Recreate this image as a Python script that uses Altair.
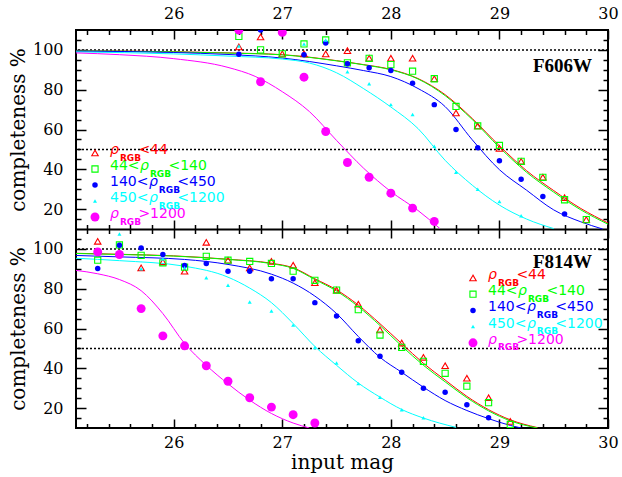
import altair as alt
import pandas as pd

# ---------------- data ----------------
SERIES = ["lt44", "44to140", "140to450", "450to1200", "gt1200"]
COLORS = ["#ff0000", "#00ff00", "#0000ff", "#00ffff", "#ff00ff"]
LEGEND_PRE = ["", "44<", "140<", "450<", ""]
LEGEND_SUF = ["<44", "<140", "<450", "<1200", ">1200"]
PANELS = ["F606W", "F814W"]

X_MAJOR = [26, 27, 28, 29, 30]
X_MINOR = [25.2, 25.4, 25.6, 25.8, 26.2, 26.4, 26.6, 26.8, 27.2, 27.4, 27.6, 27.8,
           28.2, 28.4, 28.6, 28.8, 29.2, 29.4, 29.6, 29.8]
Y_MAJOR = [20, 40, 60, 80, 100]
Y_MINOR = [15, 25, 30, 35, 45, 50, 55, 65, 70, 75, 85, 90, 95, 105]
DOTTED = [100, 50]

# F606W measured points
F606_MAG = [26.6, 26.8, 27.0, 27.2, 27.4, 27.6, 27.8, 28.0, 28.2, 28.4, 28.6, 28.8,
            29.0, 29.2, 29.4, 29.6, 29.8]
F606_RED = [101.5, 106.5, 98.0, 98.0, 98.0, 99.6, 95.8, 95.8, 95.8, 85.5, 68.3, 61.8,
            50.5, 44.0, 36.0, 25.8, 14.7]
F606_GREEN = [106.8, 100.0, 98.0, 103.0, 105.0, 93.5, 95.8, 92.6, 89.3, 85.5, 71.6, 61.8,
              52.0, 44.0, 36.0, 24.7, 14.7]
F606_BLUE = [97.8, 110.0, None, 97.6, 103.5, 93.0, 91.0, 89.6, 83.3, 72.5, 60.0, 50.8,
             44.3, 35.0, 26.3, 17.5, None]
F606_CYAN = [102.0, None, None, 103.0, 105.0, 89.0, 83.0, 72.5, 67.5, 51.6, 38.5, 30.0,
             23.8, 16.7, None, None, None]
F606_MAGENTA = [110.0, 84.0, 108.8, 86.3, 59.0, 43.4, 36.0, 28.0, 20.5, 13.8, None, None,
                None, None, None, None, None]

# F814W measured points
F814_MAG = [25.3, 25.5, 25.7, 25.9, 26.1, 26.3, 26.5, 26.7, 26.9, 27.1, 27.3, 27.5,
            27.7, 27.9, 28.1, 28.3, 28.5, 28.7, 28.9, 29.1]
F814_RED = [103.8, None, 90.5, 93.5, 88.8, 103.3, 94.3, 90.5, 93.7, 91.8, 83.0, 79.3,
            72.2, 59.3, 52.7, 45.5, 41.3, 35.0, 25.2, 13.3]
F814_GREEN = [94.3, 102.0, 96.8, 93.0, 90.8, 96.3, 94.3, 93.7, 92.7, 88.8, 84.2, 79.3,
              69.5, 56.7, 50.5, 43.5, 37.5, 31.0, 22.7, 11.8]
F814_BLUE = [90.2, 101.8, 100.5, 97.2, 91.7, 92.7, 88.8, 88.8, 85.0, 85.0, 73.0, 66.3,
             53.8, 46.0, 38.0, 30.0, 28.0, 21.7, 15.2, None]
F814_CYAN = [None, 107.5, 90.0, 95.0, 90.5, 85.5, 81.7, 73.3, 68.8, 61.7, 50.5, 42.7,
             32.3, 25.5, 19.2, 15.2, None, None, None, None]
F814_MAGENTA = [98.5, 97.2, 70.0, 56.3, 51.3, 41.3, 33.5, 25.2, 20.5, 16.7, 12.5, None,
                None, None, None, None, None, None, None, None]

# fitted curves
F606_RED_CM = [25.1, 26.0, 26.5, 27.0, 27.5, 27.75, 28.0, 28.25, 28.5, 28.75, 29.0, 29.25, 29.5, 29.75, 30.0]
F606_RED_C = [99.6, 99.1, 98.5, 97.6, 94.6, 92.6, 90.2, 85.6, 77.5, 65.5, 51.8, 39.3, 29.3, 20.3, 13.0]
F606_GREEN_CM = [25.1, 26.0, 26.5, 27.0, 27.5, 27.75, 28.0, 28.25, 28.5, 28.75, 29.0, 29.25, 29.5, 29.75, 30.0]
F606_GREEN_C = [99.5, 99.0, 98.4, 97.5, 94.5, 92.5, 90.0, 85.4, 77.0, 65.0, 51.0, 38.5, 28.5, 19.6, 12.4]
F606_BLUE_CM = [25.1, 26.0, 26.5, 27.0, 27.5, 27.75, 28.0, 28.25, 28.5, 28.75, 29.0, 29.25, 29.5, 29.75, 29.95]
F606_BLUE_C = [99.4, 98.7, 97.7, 95.9, 92.0, 89.6, 86.6, 80.6, 71.5, 54.8, 39.8, 29.5, 19.6, 13.6, 10.0]
F606_CYAN_CM = [25.1, 26.0, 26.5, 27.0, 27.25, 27.5, 27.75, 28.0, 28.25, 28.5, 28.75, 29.0, 29.25, 29.5]
F606_CYAN_C = [99.0, 98.0, 96.9, 95.4, 93.4, 88.5, 80.5, 71.3, 60.5, 44.5, 32.0, 22.0, 15.0, 10.2]
F606_MAGENTA_CM = [25.1, 25.5, 26.0, 26.5, 26.75, 27.0, 27.25, 27.5, 27.75, 28.0, 28.25, 28.45]
F606_MAGENTA_C = [98.5, 97.6, 95.6, 91.2, 86.7, 79.0, 69.0, 54.5, 40.5, 28.8, 19.3, 10.3]

F814_RED_CM = [25.1, 25.5, 26.0, 26.5, 26.9, 27.1, 27.3, 27.5, 27.7, 27.9, 28.1, 28.3, 28.5, 28.7, 28.9, 29.1, 29.35]
F814_RED_C = [97.8, 97.3, 96.5, 94.8, 92.8, 90.5, 85.0, 79.4, 71.8, 62.4, 52.4, 42.5, 34.1, 25.9, 19.2, 14.1, 10.2]
F814_GREEN_CM = [25.1, 25.5, 26.0, 26.5, 26.9, 27.1, 27.3, 27.5, 27.7, 27.9, 28.1, 28.3, 28.5, 28.7, 28.9, 29.1, 29.35]
F814_GREEN_C = [97.7, 97.2, 96.4, 94.7, 92.6, 90.2, 84.6, 78.8, 71.0, 61.5, 51.2, 41.5, 33.2, 25.2, 18.6, 13.6, 10.0]
F814_BLUE_CM = [25.1, 25.5, 26.1, 26.5, 26.9, 27.1, 27.3, 27.5, 27.7, 27.9, 28.1, 28.3, 28.5, 28.7, 28.9, 29.1, 29.2]
F814_BLUE_C = [96.7, 96.0, 94.7, 92.2, 87.3, 82.8, 76.3, 67.5, 56.0, 45.5, 38.0, 30.5, 23.8, 18.8, 14.7, 11.3, 10.0]
F814_CYAN_CM = [25.1, 25.5, 26.1, 26.5, 26.7, 26.9, 27.1, 27.3, 27.5, 27.7, 27.9, 28.1, 28.3, 28.6]
F814_CYAN_C = [95.3, 94.1, 91.3, 85.8, 80.3, 73.0, 62.5, 51.0, 41.5, 32.6, 25.5, 19.3, 15.0, 10.3]
F814_MAGENTA_CM = [25.1, 25.3, 25.5, 25.7, 25.9, 26.1, 26.3, 26.5, 26.7, 26.9, 27.1, 27.25]
F814_MAGENTA_C = [89.2, 87.5, 84.6, 79.0, 67.5, 52.5, 41.5, 32.2, 24.0, 17.3, 12.5, 10.0]

# ---------------- tables ----------------
pt_rows = []
for panel, mags, sets in [
    ("F606W", F606_MAG, [F606_RED, F606_GREEN, F606_BLUE, F606_CYAN, F606_MAGENTA]),
    ("F814W", F814_MAG, [F814_RED, F814_GREEN, F814_BLUE, F814_CYAN, F814_MAGENTA]),
]:
    for key, vals in zip(SERIES, sets):
        for m, v in zip(mags, vals):
            if v is not None:
                pt_rows.append({"panel": panel, "series": key, "mag": m, "pct": v})
points = pd.DataFrame(pt_rows)

cv_rows = []
for panel, curves in [
    ("F606W", [(F606_RED_CM, F606_RED_C), (F606_GREEN_CM, F606_GREEN_C), (F606_BLUE_CM, F606_BLUE_C),
               (F606_CYAN_CM, F606_CYAN_C), (F606_MAGENTA_CM, F606_MAGENTA_C)]),
    ("F814W", [(F814_RED_CM, F814_RED_C), (F814_GREEN_CM, F814_GREEN_C), (F814_BLUE_CM, F814_BLUE_C),
               (F814_CYAN_CM, F814_CYAN_C), (F814_MAGENTA_CM, F814_MAGENTA_C)]),
]:
    for key, (ms, vs) in zip(SERIES, curves):
        for m, v in zip(ms, vs):
            cv_rows.append({"panel": panel, "series": key, "grp": panel + key, "mag": m, "pct": v})
curves_df = pd.DataFrame(cv_rows)

dotted_df = pd.DataFrame([{"panel": p, "pct": lv} for p in PANELS for lv in DOTTED])

# ---------------- layout ----------------
W = 532
PH = 199
H = 2 * PH
YEXPR = "datum.panel === 'F814W' ? datum.pct - 100 : datum.pct"
XS = alt.Scale(domain=[25.1, 30.0], nice=False, zero=False)
YS = alt.Scale(domain=[-90, 110], nice=False, zero=False)
CS = alt.Scale(domain=SERIES, range=COLORS)

X_ENC = alt.X("mag:Q", scale=XS, axis=None)
Y_ENC = alt.Y("y:Q", scale=YS, axis=None)

layers = []

# dotted reference lines
layers.append(
    alt.Chart(dotted_df).transform_calculate(y=YEXPR)
    .mark_rule(color="black", strokeWidth=1.5, strokeDash=[2, 2])
    .encode(y=Y_ENC)
)

# fitted curves
layers.append(
    alt.Chart(curves_df).transform_calculate(y=YEXPR)
    .mark_line(strokeWidth=1, interpolate="monotone", clip=True)
    .encode(x=X_ENC, y=Y_ENC,
            color=alt.Color("series:N", scale=CS, legend=None),
            detail="grp:N", order="mag:Q")
)

STYLES = [
    dict(shape="triangle-up", filled=False, size=42, strokeWidth=1.1),
    dict(shape="square", filled=False, size=38, strokeWidth=1.1),
    dict(shape="circle", filled=True, size=30),
    dict(shape="triangle-up", filled=True, size=16),
    dict(shape="circle", filled=True, size=80),
]

for key, col, st in zip(SERIES, COLORS, STYLES):
    layers.append(
        alt.Chart(points).transform_filter(alt.datum.series == key)
        .transform_calculate(y=YEXPR)
        .mark_point(color=col, opacity=1, clip=True, **st)
        .encode(x=X_ENC, y=Y_ENC)
    )

# ---------------- legends (pixel placed) ----------------
CW = {"0": .636, "1": .636, "2": .636, "3": .636, "4": .636, "5": .636, "6": .636,
      "7": .636, "8": .636, "9": .636, "<": .838, ">": .838}
FS, SFS = 14, 9
RHO_W, RGB_W = 0.634, 2.0
LEG_ANCHORS = [(19, 34, 123, 16.0), (397, 412, 248, 16.2)]

sym_rows, main_rows, rho_rows, sub_rows = [], [], [], []
for xs, x0, y0, dy in LEG_ANCHORS:
    for i, key in enumerate(SERIES):
        yy = y0 + i * dy
        sym_rows.append({"series": key, "px": xs, "py": yy})
        wpre = FS * sum(CW[c] for c in LEGEND_PRE[i])
        xr = x0 + wpre + (0.5 if LEGEND_PRE[i] else 0)
        xsub = xr + FS * RHO_W + 1.0
        xsuf = xsub + SFS * RGB_W + 0.5
        if LEGEND_PRE[i]:
            main_rows.append({"series": key, "px": x0, "py": yy - 3, "t": LEGEND_PRE[i]})
        main_rows.append({"series": key, "px": xsuf, "py": yy - 3, "t": LEGEND_SUF[i]})
        rho_rows.append({"series": key, "px": xr, "py": yy - 3, "t": "ρ"})
        sub_rows.append({"series": key, "px": xsub, "py": yy + 4.5, "t": "RGB"})

PX = alt.X("px:Q", scale=None, axis=None)
PY = alt.Y("py:Q", scale=None, axis=None)
sym_df = pd.DataFrame(sym_rows)
for key, col, st in zip(SERIES, COLORS, STYLES):
    layers.append(
        alt.Chart(sym_df).transform_filter(alt.datum.series == key)
        .mark_point(color=col, opacity=1, **st).encode(x=PX, y=PY)
    )

for rows, extra in [(main_rows, dict(fontSize=FS)),
                    (rho_rows, dict(fontSize=FS, fontStyle="italic")),
                    (sub_rows, dict(fontSize=SFS, fontWeight="bold"))]:
    layers.append(
        alt.Chart(pd.DataFrame(rows))
        .mark_text(font="DejaVu Sans", align="left", baseline="middle", **extra)
        .encode(x=PX, y=PY, text="t:N",
                color=alt.Color("series:N", scale=CS, legend=None))
    )

# panel names
panel_df = pd.DataFrame({"t": PANELS, "px": [516, 516], "py": [36, PH + 33]})
layers.append(
    alt.Chart(panel_df).mark_text(font="Liberation Serif", fontSize=19, fontWeight="bold",
                                  align="right", baseline="middle", color="black")
    .encode(x=PX, y=PY, text="t:N")
)

# ---------------- axes ----------------
frame = pd.DataFrame({"mag": [25.1, 30.0], "y": [-90, 110]})


def axis_layer(xaxis=None, yaxis=None):
    return alt.Chart(frame).mark_point(opacity=0).encode(
        x=alt.X("mag:Q", scale=XS, axis=xaxis),
        y=alt.Y("y:Q", scale=YS, axis=yaxis))


def tick_axis(orient, offset, values, size, domain=False):
    return alt.Axis(orient=orient, offset=offset, values=values, ticks=True, tickSize=size,
                    tickWidth=1.5, tickColor="black", labels=False, domain=domain,
                    domainColor="black", domainWidth=2, grid=False, title=None)


x_axes = [
    alt.Axis(orient="top", values=X_MAJOR, ticks=False, tickSize=0, labelPadding=9,
             domain=False, grid=False, labelFlush=False, labelOverlap=False, title=None),
    alt.Axis(orient="bottom", values=X_MAJOR, ticks=False, tickSize=0, labelPadding=6,
             domain=False, grid=False, labelFlush=False, labelOverlap=False,
             title="input mag", titleY=40, titleBaseline="alphabetic"),
]
for orient, off in [("bottom", -H), ("top", -H), ("top", -PH), ("bottom", -PH)]:
    x_axes.append(tick_axis(orient, off, X_MAJOR, 9, domain=(orient == "top" and off == -PH)))
    x_axes.append(tick_axis(orient, off, X_MINOR, 4.5))

y_axes = [
    alt.Axis(orient="left", values=Y_MAJOR, ticks=False, tickSize=0, labelPadding=13,
             domain=False, grid=False, labelFlush=False, labelOverlap=False,
             title="completeness %", titleX=-52, titleY=PH / 2, titleBaseline="alphabetic"),
    alt.Axis(orient="left", values=[v - 100 for v in Y_MAJOR], labelExpr="datum.value + 100",
             ticks=False, tickSize=0, labelPadding=13, domain=False, grid=False,
             labelFlush=False, labelOverlap=False,
             title="completeness %", titleX=-52, titleY=PH * 1.5, titleBaseline="alphabetic"),
]
Y_MAJOR_ALL = Y_MAJOR + [v - 100 for v in Y_MAJOR]
Y_MINOR_ALL = Y_MINOR + [v - 100 for v in Y_MINOR]
for orient in ["right", "left"]:
    y_axes.append(tick_axis(orient, -W, Y_MAJOR_ALL, 10))
    y_axes.append(tick_axis(orient, -W, Y_MINOR_ALL, 5))

n = max(len(x_axes), len(y_axes))
for i in range(n):
    xa = x_axes[i] if i < len(x_axes) else None
    ya = y_axes[i] if i < len(y_axes) else None
    layers.append(axis_layer(xa, ya))

chart = (
    alt.layer(*layers)
    .resolve_axis(x="independent", y="independent")
    .properties(width=W, height=H, background="white",
                autosize=alt.AutoSizeParams(type="none"),
                padding={"left": 76, "top": 30, "right": 14, "bottom": 49})
    .configure_axis(labelFont="DejaVu Serif", labelFontSize=16, labelColor="black",
                    titleFont="DejaVu Serif", titleFontSize=20, titleFontWeight="normal",
                    titleColor="black")
    .configure_view(stroke="black", strokeWidth=2)
)

chart.save("out.html", embed_options={"renderer": "svg", "actions": False})
